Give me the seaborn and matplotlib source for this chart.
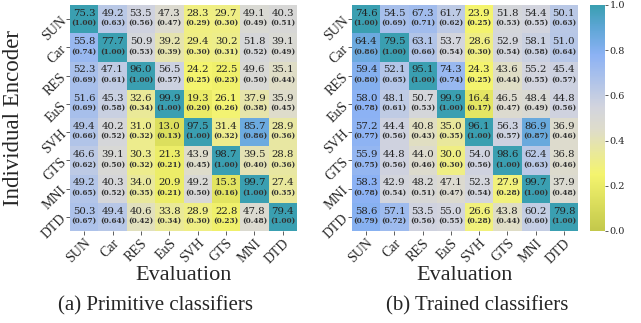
import numpy as np
import matplotlib
matplotlib.use("Agg")
import matplotlib.pyplot as plt
from matplotlib.colors import LinearSegmentedColormap
import seaborn as sns

datasets = ["SUN", "Car", "RES", "EuS", "SVH", "GTS", "MNI", "DTD"]

# Accuracy (%) of each individual encoder (rows) on each evaluation set (columns)
primitive_acc = [
    [75.3, 49.2, 53.5, 47.3, 28.3, 29.7, 49.1, 40.3],
    [55.8, 77.7, 50.9, 39.2, 29.4, 30.2, 51.8, 39.1],
    [52.3, 47.1, 96.0, 56.5, 24.2, 22.5, 49.6, 35.1],
    [51.6, 45.3, 32.6, 99.9, 19.3, 26.1, 37.9, 35.9],
    [49.4, 40.2, 31.0, 13.0, 97.5, 31.4, 85.7, 28.9],
    [46.6, 39.1, 30.3, 21.3, 43.9, 98.7, 39.5, 28.8],
    [49.2, 40.3, 34.0, 20.9, 49.2, 15.3, 99.7, 27.4],
    [50.3, 49.4, 40.6, 33.8, 28.9, 22.8, 47.8, 79.4],
]
primitive_rel = [
    [1.00, 0.63, 0.56, 0.47, 0.29, 0.30, 0.49, 0.51],
    [0.74, 1.00, 0.53, 0.39, 0.30, 0.31, 0.52, 0.49],
    [0.69, 0.61, 1.00, 0.57, 0.25, 0.23, 0.50, 0.44],
    [0.69, 0.58, 0.34, 1.00, 0.20, 0.26, 0.38, 0.45],
    [0.66, 0.52, 0.32, 0.13, 1.00, 0.32, 0.86, 0.36],
    [0.62, 0.50, 0.32, 0.21, 0.45, 1.00, 0.40, 0.36],
    [0.65, 0.52, 0.35, 0.21, 0.50, 0.16, 1.00, 0.35],
    [0.67, 0.64, 0.42, 0.34, 0.30, 0.23, 0.48, 1.00],
]

trained_acc = [
    [74.6, 54.5, 67.3, 61.7, 23.9, 51.8, 54.4, 50.1],
    [64.4, 79.5, 63.1, 53.7, 28.6, 52.9, 58.1, 51.0],
    [59.4, 52.1, 95.1, 74.3, 24.3, 43.6, 55.2, 45.4],
    [58.0, 48.1, 50.7, 99.9, 16.4, 46.5, 48.4, 44.8],
    [57.2, 44.4, 40.8, 35.0, 96.1, 56.3, 86.9, 36.9],
    [55.9, 44.8, 44.0, 30.0, 54.0, 98.6, 62.4, 36.8],
    [58.3, 42.9, 48.2, 47.1, 52.3, 27.9, 99.7, 37.9],
    [58.6, 57.1, 53.5, 55.0, 26.6, 43.8, 60.2, 79.8],
]
trained_rel = [
    [1.00, 0.69, 0.71, 0.62, 0.25, 0.53, 0.55, 0.63],
    [0.86, 1.00, 0.66, 0.54, 0.30, 0.54, 0.58, 0.64],
    [0.80, 0.65, 1.00, 0.74, 0.25, 0.44, 0.55, 0.57],
    [0.78, 0.61, 0.53, 1.00, 0.17, 0.47, 0.49, 0.56],
    [0.77, 0.56, 0.43, 0.35, 1.00, 0.57, 0.87, 0.46],
    [0.75, 0.56, 0.46, 0.30, 0.56, 1.00, 0.63, 0.46],
    [0.78, 0.54, 0.51, 0.47, 0.54, 0.28, 1.00, 0.48],
    [0.79, 0.72, 0.56, 0.55, 0.28, 0.44, 0.60, 1.00],
]

captions = ["(a) Primitive classifiers", "(b) Trained classifiers"]

cmap = LinearSegmentedColormap.from_list(
    "olive_grey_teal",
    [(0.00, "#c3c84b"), (0.25, "#f4f46e"), (0.45, "#dedccb"),
     (0.55, "#d2d4de"), (0.78, "#8cb2f4"), (0.90, "#5ea6d6"), (1.00, "#3a9fb1")],
)

sns.set_theme(style="white")
serif_tick = "Liberation Serif"
serif_num = "DejaVu Serif"

W, H = 641, 323
fig = plt.figure(figsize=(W / 100, H / 100), dpi=100)


def box(x0, y0, x1, y1):
    return [x0 / W, 1 - y1 / H, (x1 - x0) / W, (y1 - y0) / H]


ax_a = fig.add_axes(box(70, 5, 297, 231))
ax_b = fig.add_axes(box(352, 5, 578, 231))
cax = fig.add_axes(box(590, 5, 605, 231))

panels = [(ax_a, primitive_acc, primitive_rel), (ax_b, trained_acc, trained_rel)]
for k, (ax, acc, rel) in enumerate(panels):
    acc = np.array(acc)
    rel = np.array(rel)
    sns.heatmap(rel, ax=ax, cmap=cmap, vmin=0, vmax=1, cbar=(k == 1),
                cbar_ax=cax if k == 1 else None, square=False,
                xticklabels=datasets, yticklabels=datasets)
    for i in range(acc.shape[0]):
        for j in range(acc.shape[1]):
            ax.text(j + 0.5, i + 0.30, f"{acc[i, j]:.1f}", ha="center", va="center",
                    fontsize=7.3, family=serif_num, color="#222222")
            ax.text(j + 0.5, i + 0.64, f"({rel[i, j]:.2f})", ha="center", va="center",
                    fontsize=5.3, family=serif_num, fontweight="bold", color="#333333")
    ax.tick_params(axis="both", which="both", length=3, width=0.6, pad=1,
                   left=True, bottom=True, color="#444444")
    for lab in ax.get_xticklabels():
        lab.set_rotation(45)
        lab.set_ha("right")
        lab.set_rotation_mode("anchor")
        lab.set_family(serif_tick)
        lab.set_fontsize(10)
    for lab in ax.get_yticklabels():
        lab.set_rotation(45)
        lab.set_ha("right")
        lab.set_va("center")
        lab.set_rotation_mode("anchor")
        lab.set_family(serif_tick)
        lab.set_fontsize(10)
    ax.set_xlabel("")
    ax.set_ylabel("")

fig.text(183.5 / W, 1 - 275 / H, "Evaluation", ha="center", va="center",
         family=serif_tick, fontsize=16)
fig.text(465 / W, 1 - 275 / H, "Evaluation", ha="center", va="center",
         family=serif_tick, fontsize=16)
fig.text(14 / W, 1 - 118 / H, "Individual Encoder", ha="center", va="center",
         rotation=90, family=serif_tick, fontsize=16.5)
fig.text(156 / W, 1 - 306 / H, captions[0], ha="center", va="center",
         family=serif_tick, fontsize=15)
fig.text(477 / W, 1 - 306 / H, captions[1], ha="center", va="center",
         family=serif_tick, fontsize=15)

cax.set_yticks([0.0, 0.2, 0.4, 0.6, 0.8, 1.0])
cax.set_yticklabels(["0.0", "0.2", "0.4", "0.6", "0.8", "1.0"])
cax.tick_params(length=2.5, width=0.6, pad=1, labelsize=7, right=True, color="#444444")
for lab in cax.get_yticklabels():
    lab.set_family(serif_num)

fig.savefig("out.png", dpi=100)
